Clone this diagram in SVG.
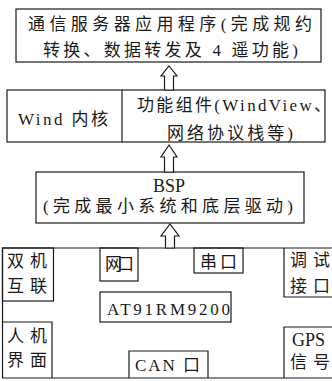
<svg xmlns="http://www.w3.org/2000/svg" width="332" height="381" viewBox="0 0 332 381">
<style>
.box{fill:none;stroke:#1a1a1a;stroke-width:1.2}
.arr{fill:#fff;stroke:#1a1a1a;stroke-width:1.2;stroke-linejoin:miter}
text{font-family:"Liberation Serif","Noto Sans CJK SC",serif;font-size:17px;fill:#1a1a1a}
</style>
<rect width="332" height="381" fill="#fff"/>
<g id="app">
<rect class="box" x="16" y="9" width="305" height="53"/>
<text x="28" y="30" textLength="284" lengthAdjust="spacing">通信服务器应用程序(完成规约</text>
<text x="43" y="56" textLength="255" lengthAdjust="spacing">转换、数据转发及 4 遥功能)</text>
</g>
<g id="os">
<rect class="box" x="7" y="90" width="318" height="52"/>
<line class="box" x1="122" y1="90" x2="122" y2="142"/>
<text x="18" y="125" textLength="90" lengthAdjust="spacing">Wind 内核</text>
<text x="137" y="111" textLength="194" lengthAdjust="spacing">功能组件(WindView、</text>
<text x="167" y="139" textLength="126" lengthAdjust="spacing">网络协议栈等)</text>
</g>
<g id="bsp">
<rect class="box" x="36" y="172" width="268" height="51"/>
<text x="169" y="192" text-anchor="middle" style="font-size:18px">BSP</text>
<text x="43" y="212" textLength="250" lengthAdjust="spacing">(完成最小系统和底层驱动)</text>
</g>
<g id="hardware">
<path class="box" d="M332,248 H2.5 V378 H332"/>
<g id="dual">
<rect class="box" x="2.5" y="248" width="51" height="53"/>
<text x="7" y="267" textLength="40" lengthAdjust="spacing">双机</text>
<text x="7" y="292" textLength="40" lengthAdjust="spacing">互联</text>
</g>
<g id="net">
<rect class="box" x="100" y="248" width="38" height="33"/>
<text x="105" y="270" textLength="29" lengthAdjust="spacing">网口</text>
</g>
<g id="serial">
<rect class="box" x="194" y="248" width="49" height="25"/>
<text x="200" y="268" textLength="37" lengthAdjust="spacing">串口</text>
</g>
<g id="debug">
<path class="box" d="M332,297 H284 V248"/>
<text x="290" y="266" textLength="40" lengthAdjust="spacing">调试</text>
<text x="290" y="292" textLength="40" lengthAdjust="spacing">接口</text>
</g>
<g id="cpu">
<rect class="box" x="100" y="292" width="131" height="30"/>
<text x="107" y="315" textLength="123" lengthAdjust="spacing">AT91RM9200</text>
</g>
<g id="hmi">
<path class="box" d="M2.5,322 H52 V378"/>
<text x="7" y="342" textLength="40" lengthAdjust="spacing">人机</text>
<text x="7" y="366" textLength="40" lengthAdjust="spacing">界面</text>
</g>
<g id="can">
<path class="box" d="M129,378 V351 H208 V378"/>
<text x="135" y="371" textLength="65" lengthAdjust="spacing">CAN 口</text>
</g>
<g id="gps">
<path class="box" d="M332,327 H284 V378"/>
<text x="292" y="346" style="font-size:18px">GPS</text>
<text x="290" y="368" textLength="40" lengthAdjust="spacing">信号</text>
</g>
</g>
<g id="connectors">
<polygon class="arr" points="169,66 177,76 173.5,76 173.5,90 164.5,90 164.5,76 161,76"/>
<polygon class="arr" points="169,145 177,157 173.5,157 173.5,172 164.5,172 164.5,157 161,157"/>
<polygon class="arr" points="170,224 179,236 174.5,236 174.5,248 165.5,248 165.5,236 161,236"/>
</g>
</svg>
